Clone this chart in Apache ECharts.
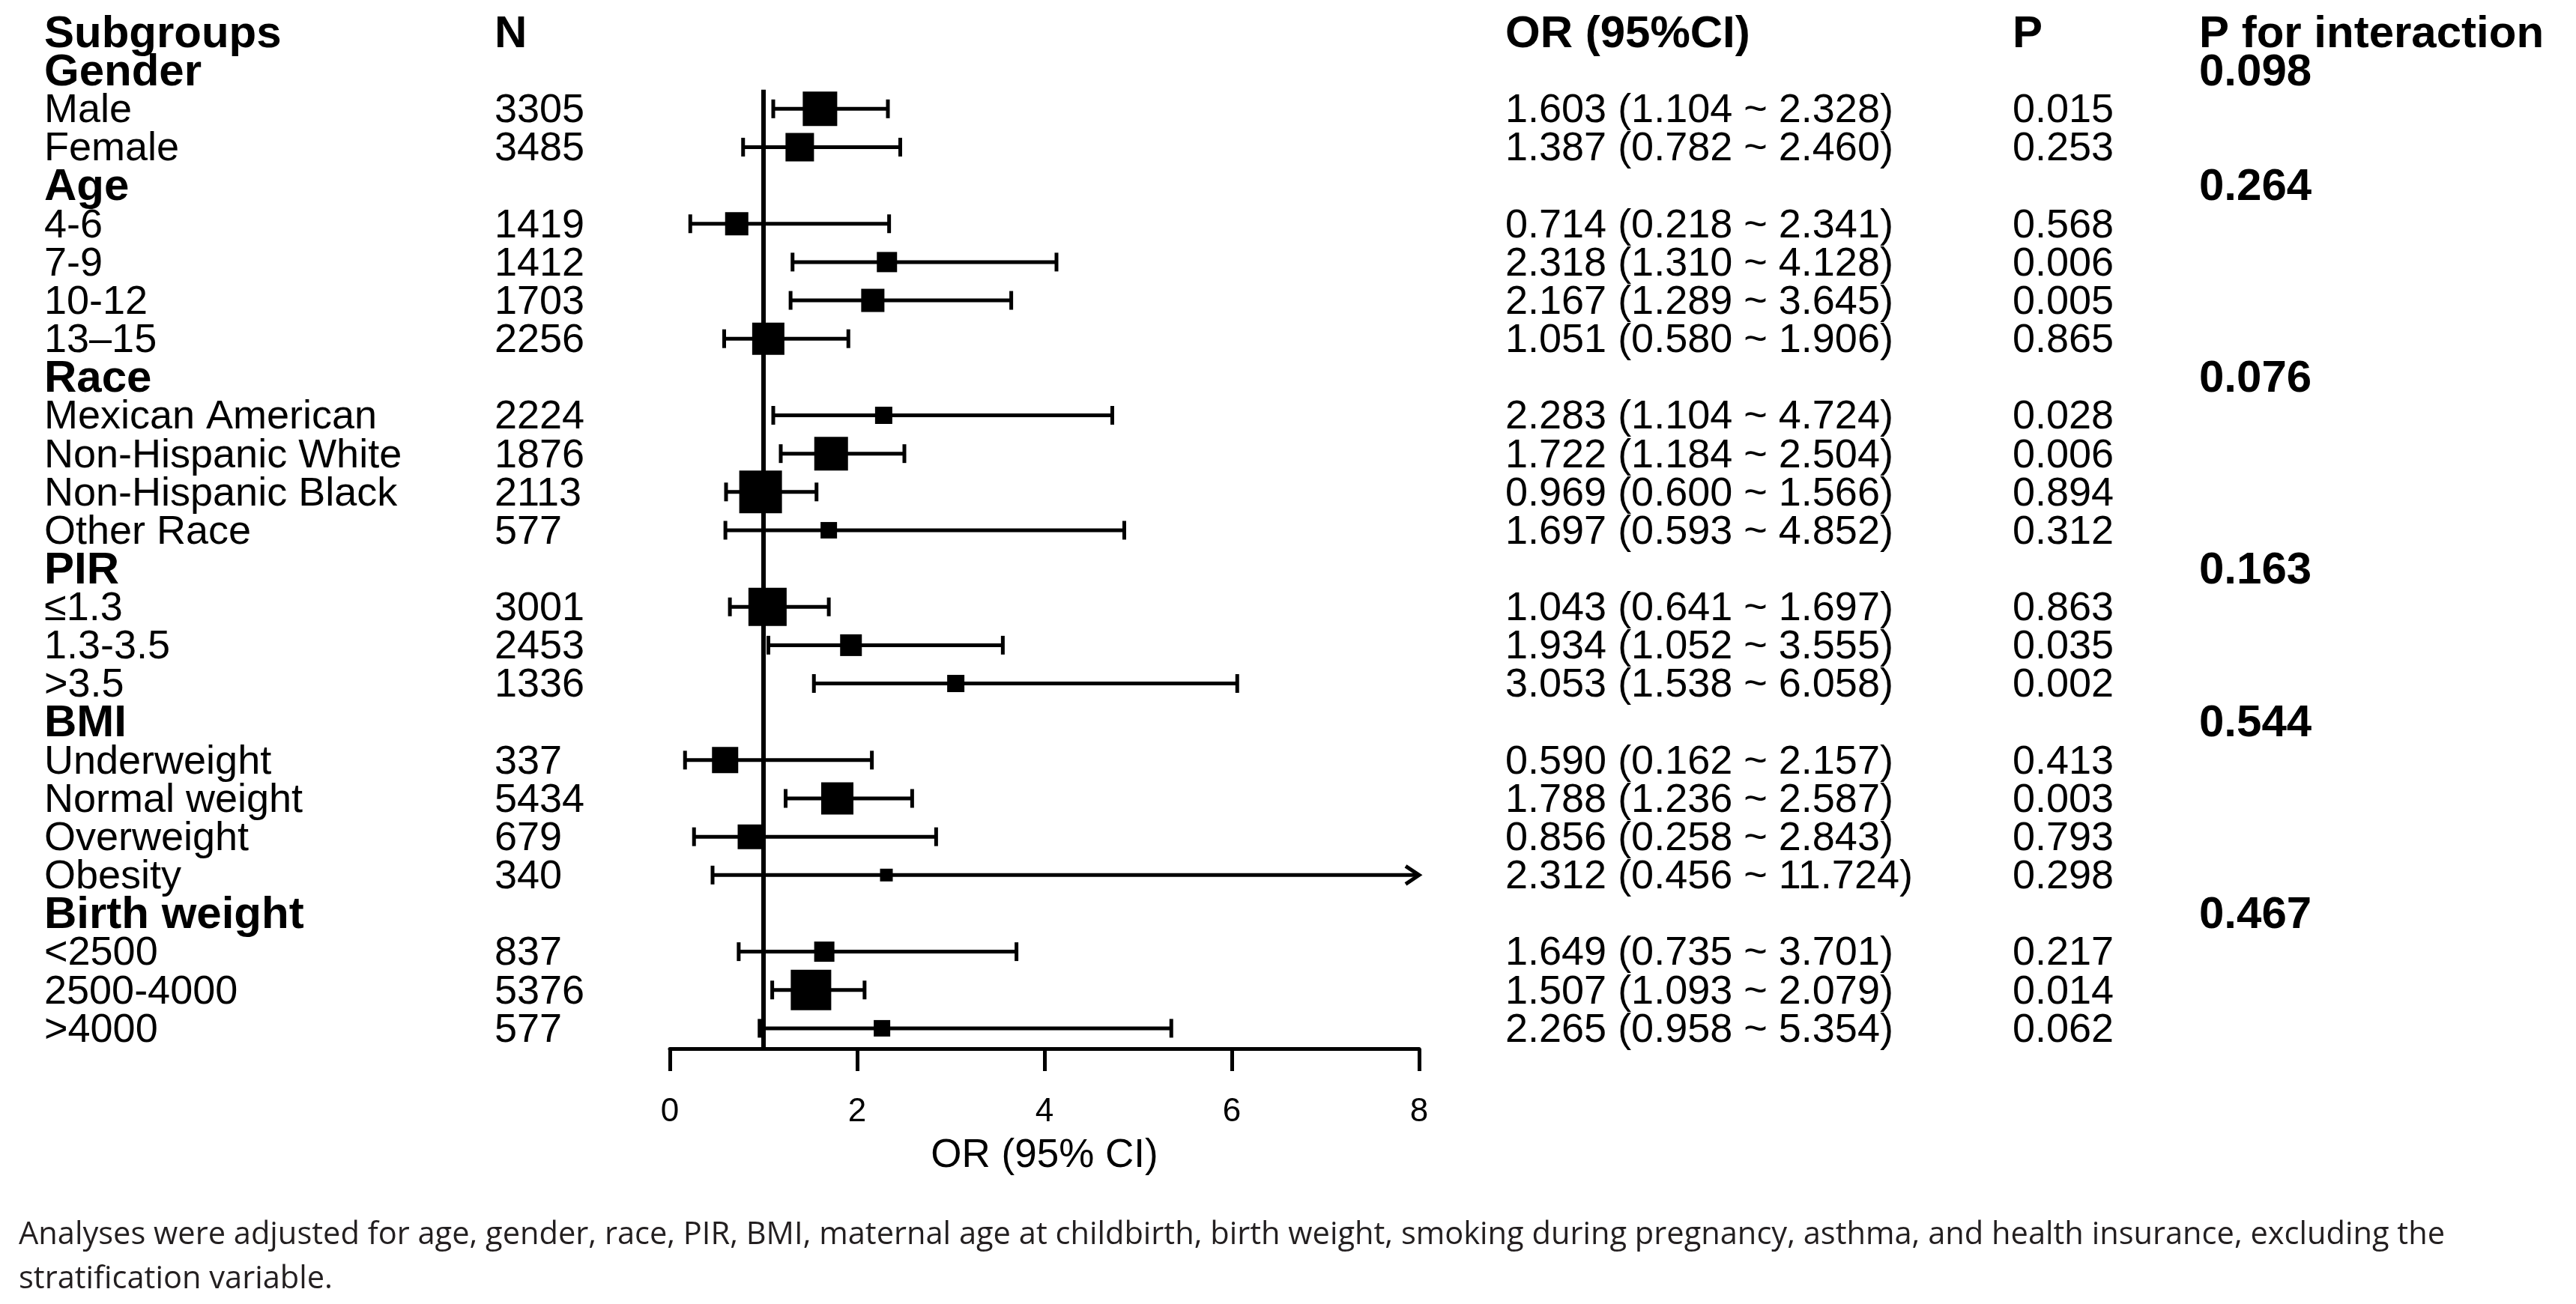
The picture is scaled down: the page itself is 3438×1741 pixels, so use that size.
<!DOCTYPE html>
<html>
<head>
<meta charset="utf-8">
<title>Subgroup forest plot</title>
<script src="https://cdn.jsdelivr.net/npm/echarts@6/dist/echarts.min.js"></script>
<style>
	html, body { margin: 0; padding: 0; background: #fff; }
	#forestContainer { width: 3438px; height: 1741px; }
</style>
</head>
<body>
<div id="forestContainer"></div>
<script>
// table header and rows (group rows have no N / OR)
var headers = ['Subgroups', 'N', 'OR (95%CI)', 'P', 'P for interaction'];
var subgroups = ['Gender', 'Male', 'Female',
	'Age', '4-6', '7-9', '10-12', '13\u201315',
	'Race', 'Mexican American', 'Non-Hispanic White', 'Non-Hispanic Black', 'Other Race',
	'PIR', '\u22641.3', '1.3-3.5', '>3.5',
	'BMI', 'Underweight', 'Normal weight', 'Overweight', 'Obesity',
	'Birth weight', '<2500', '2500-4000', '>4000'];
var nValues = [null, 3305, 3485,
	null, 1419, 1412, 1703, 2256,
	null, 2224, 1876, 2113, 577,
	null, 3001, 2453, 1336,
	null, 337, 5434, 679, 340,
	null, 837, 5376, 577];
var orValues = [null, 1.603, 1.387,
	null, 0.714, 2.318, 2.167, 1.051,
	null, 2.283, 1.722, 0.969, 1.697,
	null, 1.043, 1.934, 3.053,
	null, 0.590, 1.788, 0.856, 2.312,
	null, 1.649, 1.507, 2.265];
var ciLower = [null, 1.104, 0.782,
	null, 0.218, 1.310, 1.289, 0.580,
	null, 1.104, 1.184, 0.600, 0.593,
	null, 0.641, 1.052, 1.538,
	null, 0.162, 1.236, 0.258, 0.456,
	null, 0.735, 1.093, 0.958];
var ciUpper = [null, 2.328, 2.460,
	null, 2.341, 4.128, 3.645, 1.906,
	null, 4.724, 2.504, 1.566, 4.852,
	null, 1.697, 3.555, 6.058,
	null, 2.157, 2.587, 2.843, 11.724,
	null, 3.701, 2.079, 5.354];
var pValues = ['', '0.015', '0.253',
	'', '0.568', '0.006', '0.005', '0.865',
	'', '0.028', '0.006', '0.894', '0.312',
	'', '0.863', '0.035', '0.002',
	'', '0.413', '0.003', '0.793', '0.298',
	'', '0.217', '0.014', '0.062'];
var pInteraction = ['0.098', '', '',
	'0.264', '', '', '', '',
	'0.076', '', '', '', '',
	'0.163', '', '', '',
	'0.544', '', '', '', '',
	'0.467', '', '', ''];
// box weight
var boxWeights = [null, 46, 38,
	null, 31, 27, 31, 43,
	null, 23, 45, 57, 22,
	null, 51, 29, 23,
	null, 35, 43, 33, 17,
	null, 27, 54, 22];
var xTicks = [0, 2, 4, 6, 8];
var refValue = 1;
var axisName = 'OR (95% CI)';
var footnote = 'Analyses were adjusted for age, gender, race, PIR, BMI, maternal age at childbirth, birth weight, smoking during pregnancy, asthma, and health insurance, excluding the\nstratification variable.';

function ForestPlot(dom) {
	this.dom = dom;
	this.fontFamily = '"Liberation Sans", Arial, Helvetica, sans-serif';
	this.rowTop = 43;
	this.rowStep = 51.15;
	this.axisY = 1400;
	this.plotLeft = 894;
	this.plotWidth = 1000;
	this.columnX = [59, 660, 2009, 2686, 2935];
	this.textShift = 3;
	this.yMax = (this.axisY - this.rowTop) / this.rowStep;
	this.init();
}
ForestPlot.prototype = {
	init: function() {
		this.myChart = echarts.init(this.dom);
		this.myChart.setOption(this.buildOption(), true);
	},
	orText: function(i) {
		return orValues[i].toFixed(3) + ' (' + ciLower[i].toFixed(3) + ' ~ ' + ciUpper[i].toFixed(3) + ')';
	},
	tableSeries: function() {
		var self = this;
		var rows = [];
		for (var i = 0; i <= subgroups.length; i++) {
			rows.push([0, i]);
		}
		return {
			type: 'custom',
			xAxisIndex: 1,
			yAxisIndex: 1,
			silent: true,
			clip: false,
			data: rows,
			renderItem: function(params, api) {
				var row = api.value(1);
				var y = api.coord([0, row])[1] + self.textShift;
				var cells;
				if (row === 0) {
					cells = headers.map(function(h) {
						return { text: h, bold: true };
					});
				} else {
					var i = row - 1;
					var isGroup = nValues[i] == null;
					cells = [
						{ text: subgroups[i], bold: isGroup },
						{ text: isGroup ? '' : String(nValues[i]) },
						{ text: isGroup ? '' : self.orText(i) },
						{ text: pValues[i] },
						{ text: pInteraction[i], bold: true }
					];
				}
				var children = [];
				cells.forEach(function(c, k) {
					if (!c.text) return;
					children.push({
						type: 'text',
						x: api.coord([self.columnX[k], row])[0],
						y: y,
						style: {
							text: c.text,
							fill: '#000',
							fontFamily: self.fontFamily,
							fontSize: c.bold ? 60 : 54,
							fontWeight: c.bold ? 'bold' : 'normal',
							align: 'left',
							verticalAlign: 'middle'
						}
					});
				});
				return { type: 'group', children: children };
			}
		};
	},
	forestSeries: function() {
		var xMax = xTicks[xTicks.length - 1];
		var data = [];
		for (var i = 0; i < subgroups.length; i++) {
			if (orValues[i] == null) continue;
			data.push([i + 1, orValues[i], ciLower[i], ciUpper[i], boxWeights[i]]);
		}
		return {
			type: 'custom',
			xAxisIndex: 0,
			yAxisIndex: 0,
			silent: true,
			clip: false,
			data: data,
			renderItem: function(params, api) {
				var row = api.value(0);
				var hi = api.value(3);
				var pEst = api.coord([api.value(1), row]);
				var y = pEst[1];
				var xLo = api.coord([api.value(2), row])[0];
				var xHi = api.coord([Math.min(hi, xMax), row])[0];
				var size = api.value(4);
				var capH = 12.5;
				var capStyle = { stroke: '#000', lineWidth: 5 };
				var children = [
					{ type: 'line', shape: { x1: xLo, y1: y, x2: xHi, y2: y }, style: { stroke: '#000', lineWidth: 5 } },
					{ type: 'line', shape: { x1: xLo, y1: y - capH, x2: xLo, y2: y + capH }, style: capStyle }
				];
				if (hi > xMax) {
					// upper limit runs past the axis: arrow head instead of a cap
					children.push({
						type: 'polyline',
						shape: { points: [[xHi - 18, y - 12], [xHi, y], [xHi - 18, y + 12]] },
						style: { stroke: '#000', lineWidth: 5, fill: null }
					});
				} else {
					children.push({ type: 'line', shape: { x1: xHi, y1: y - capH, x2: xHi, y2: y + capH }, style: capStyle });
				}
				children.push({
					type: 'rect',
					shape: { x: pEst[0] - size / 2, y: y - size / 2, width: size, height: size },
					style: { fill: '#000' }
				});
				return { type: 'group', children: children };
			}
		};
	},
	refSeries: function() {
		return {
			type: 'custom',
			xAxisIndex: 0,
			yAxisIndex: 0,
			silent: true,
			clip: false,
			data: [[refValue, 1.5, this.yMax]],
			renderItem: function(params, api) {
				var top = api.coord([api.value(0), api.value(1)]);
				var bottom = api.coord([api.value(0), api.value(2)]);
				return {
					type: 'line',
					shape: { x1: top[0], y1: top[1], x2: bottom[0], y2: bottom[1] },
					style: { stroke: '#000', lineWidth: 6 }
				};
			}
		};
	},
	buildOption: function() {
		var gridTop = this.rowTop;
		var gridHeight = this.axisY - this.rowTop;
		return {
			animation: false,
			backgroundColor: '#fff',
			title: {
				text: footnote,
				left: 20,
				top: 1615,
				textStyle: {
					fontFamily: '"Open Sans", "Noto Sans", sans-serif',
					fontSize: 41.6,
					fontWeight: 'normal',
					lineHeight: 59,
					color: '#231f20'
				}
			},
			grid: [
				{ left: this.plotLeft, top: gridTop, width: this.plotWidth, height: gridHeight },
				{ left: 0, top: gridTop, width: 3438, height: gridHeight }
			],
			xAxis: [{
				gridIndex: 0,
				type: 'value',
				min: xTicks[0],
				max: xTicks[xTicks.length - 1],
				interval: xTicks[1] - xTicks[0],
				position: 'bottom',
				axisLine: { show: true, onZero: false, lineStyle: { color: '#000', width: 5 } },
				axisTick: { show: true, length: 30, lineStyle: { color: '#000', width: 5 } },
				axisLabel: {
					show: true,
					color: '#000',
					fontSize: 44,
					fontFamily: this.fontFamily,
					margin: 63
				},
				splitLine: { show: false },
				name: axisName,
				nameLocation: 'middle',
				nameGap: 117,
				nameTextStyle: {
					color: '#000',
					fontSize: 53,
					fontFamily: this.fontFamily
				}
			}, {
				gridIndex: 1,
				type: 'value',
				min: 0,
				max: 3438,
				show: false
			}],
			yAxis: [{
				gridIndex: 0,
				type: 'value',
				min: 0,
				max: this.yMax,
				inverse: true,
				show: false
			}, {
				gridIndex: 1,
				type: 'value',
				min: 0,
				max: this.yMax,
				inverse: true,
				show: false
			}],
			series: [this.tableSeries(), this.refSeries(), this.forestSeries()]
		};
	}
};

new ForestPlot(document.getElementById('forestContainer'));
</script>
</body>
</html>
